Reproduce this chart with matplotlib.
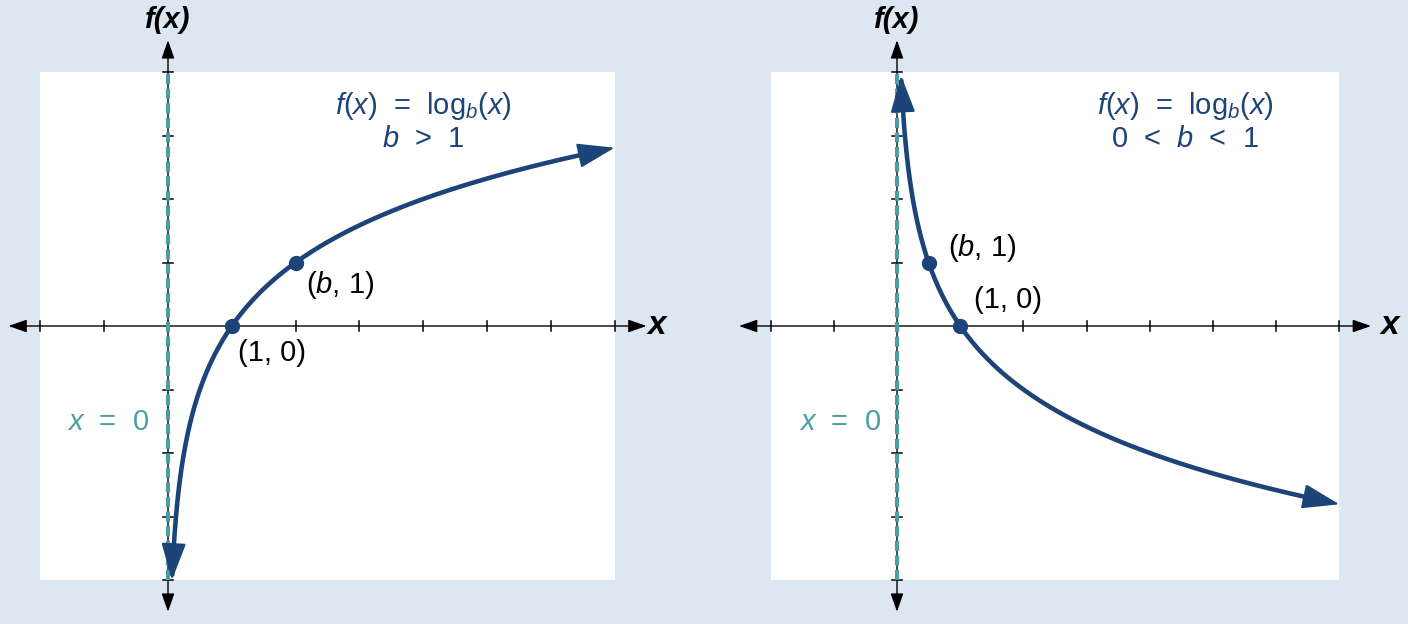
import numpy as np
import matplotlib
matplotlib.use("Agg")
import matplotlib.pyplot as plt
from matplotlib.patches import Rectangle

# data
bases = [2.0, 0.5]
x_start = [0.0625, 0.065]
x_end = [7.0, 7.0]
point_x = [[1, 2], [1, 0.5]]
point_y = [[0, 1], [0, 1]]
point_labels = [["(1, 0)", "($b$, 1)"], ["(1, 0)", "($b$, 1)"]]
titles = [["$f$($x$)  =  log$_b$($x$)", "$b$  >  1"],
          ["$f$($x$)  =  log$_b$($x$)", "0  <  $b$  <  1"]]
x_ticks = [-2, -1, 0, 1, 2, 3, 4, 5, 6, 7]
y_ticks = [-4, -3, -2, -1, 0, 1, 2, 3, 4]

W, H = 1408, 624
BG = "#dce7f1"
CURVE = "#1d4478"
TEAL = "#4a9fa2"

plt.rcParams['font.family'] = ['Liberation Sans', 'DejaVu Sans']
plt.rcParams['mathtext.fontset'] = 'custom'
plt.rcParams['mathtext.it'] = 'Liberation Sans:italic'
plt.rcParams['mathtext.rm'] = 'Liberation Sans'

fig = plt.figure(figsize=(W / 100, H / 100), dpi=100)
fig.patch.set_facecolor(BG)

# panel geometry in pixels: (left, right, origin_x, origin_y, scale_x, scale_y)
panels = [(0, 704, 168, 326, 63.8, 63.5), (704, W, 897, 326, 63.2, 63.5)]

label_pos = [
    {"pts": [(1.63, -0.43), (2.7, 0.65)], "title": (4.0, 3.47),
     "asym": (-0.94, -1.51), "xlab": 7.66},
    {"pts": [(1.76, 0.41), (1.34, 1.23)], "title": (4.56, 3.47),
     "asym": (-0.9, -1.51), "xlab": 7.8},
]

for i, (pl, pr, ox, oy, sx, sy) in enumerate(panels):
    ax = fig.add_axes([pl / W, 0, (pr - pl) / W, 1])
    ax.set_xlim((pl - ox) / sx, (pr - ox) / sx)
    ax.set_ylim((oy - H) / sy, oy / sy)
    ax.axis("off")

    # white plotting area
    ax.add_patch(Rectangle((x_ticks[0], y_ticks[0]), x_ticks[-1] - x_ticks[0],
                           y_ticks[-1] - y_ticks[0], facecolor="white",
                           edgecolor="none", zorder=0))

    # axes with arrows
    axis_arrow = dict(arrowstyle="<|-|>,head_length=0.8,head_width=0.28",
                      color="black", lw=1.0, mutation_scale=14,
                      shrinkA=0, shrinkB=0)
    ax.annotate("", xy=(-2.5, 0), xytext=(7.5, 0), arrowprops=axis_arrow, zorder=2)
    ax.annotate("", xy=(0, 4.5), xytext=(0, -4.5), arrowprops=axis_arrow, zorder=2)
    tkx = 5 / sy
    tky = 5 / sx
    for t in x_ticks:
        if t != 0:
            ax.plot([t, t], [-tkx, tkx], color="black", lw=1.1, zorder=2)
    for t in y_ticks:
        if t != 0:
            ax.plot([-tky, tky], [t, t], color="black", lw=1.1, zorder=2)

    # asymptote
    ax.plot([0, 0], [y_ticks[0], y_ticks[-1]], color=TEAL, lw=3,
            dashes=(2.4, 1.1), zorder=3)

    # curve
    b = bases[i]
    xs = np.geomspace(x_start[i], x_end[i], 400)
    ys = np.log(xs) / np.log(b)
    ax.plot(xs[6:-6], ys[6:-6], color=CURVE, lw=3.3, zorder=4)
    head = dict(arrowstyle="-|>,head_length=0.9,head_width=0.3", color=CURVE,
                lw=1.5, mutation_scale=26, shrinkA=0, shrinkB=0)
    ax.annotate("", xy=(xs[-1], ys[-1]), xytext=(xs[-12], ys[-12]),
                arrowprops=head, zorder=5)
    ax.annotate("", xy=(xs[0], ys[0]), xytext=(xs[12], ys[12]),
                arrowprops=head, zorder=5)

    # key points
    ax.plot(point_x[i], point_y[i], "o", color=CURVE, ms=10, zorder=6)
    for j in range(len(point_x[i])):
        lx, ly = label_pos[i]["pts"][j]
        ax.text(lx, ly, point_labels[i][j], ha="center", va="center",
                fontsize=21, color="black", zorder=7)

    tx, ty = label_pos[i]["title"]
    ax.text(tx, ty, titles[i][0], ha="center", va="center", fontsize=21,
            color=CURVE, zorder=7)
    ax.text(tx, ty - 0.52, titles[i][1], ha="center", va="center", fontsize=21,
            color=CURVE, zorder=7)

    ax.text(label_pos[i]["asym"][0], label_pos[i]["asym"][1], "$x$  =  0",
            ha="center", va="center", fontsize=21, color=TEAL, zorder=7)

    # axis names
    ax.text(0, 4.82, "f(x)", ha="center", va="center",
            fontsize=21, fontweight="bold", fontstyle="italic")
    ax.text(label_pos[i]["xlab"], 0, "x", ha="center", va="center", fontsize=24,
            fontweight="bold", fontstyle="italic")

fig.savefig("out.png", dpi=100, facecolor=BG)
